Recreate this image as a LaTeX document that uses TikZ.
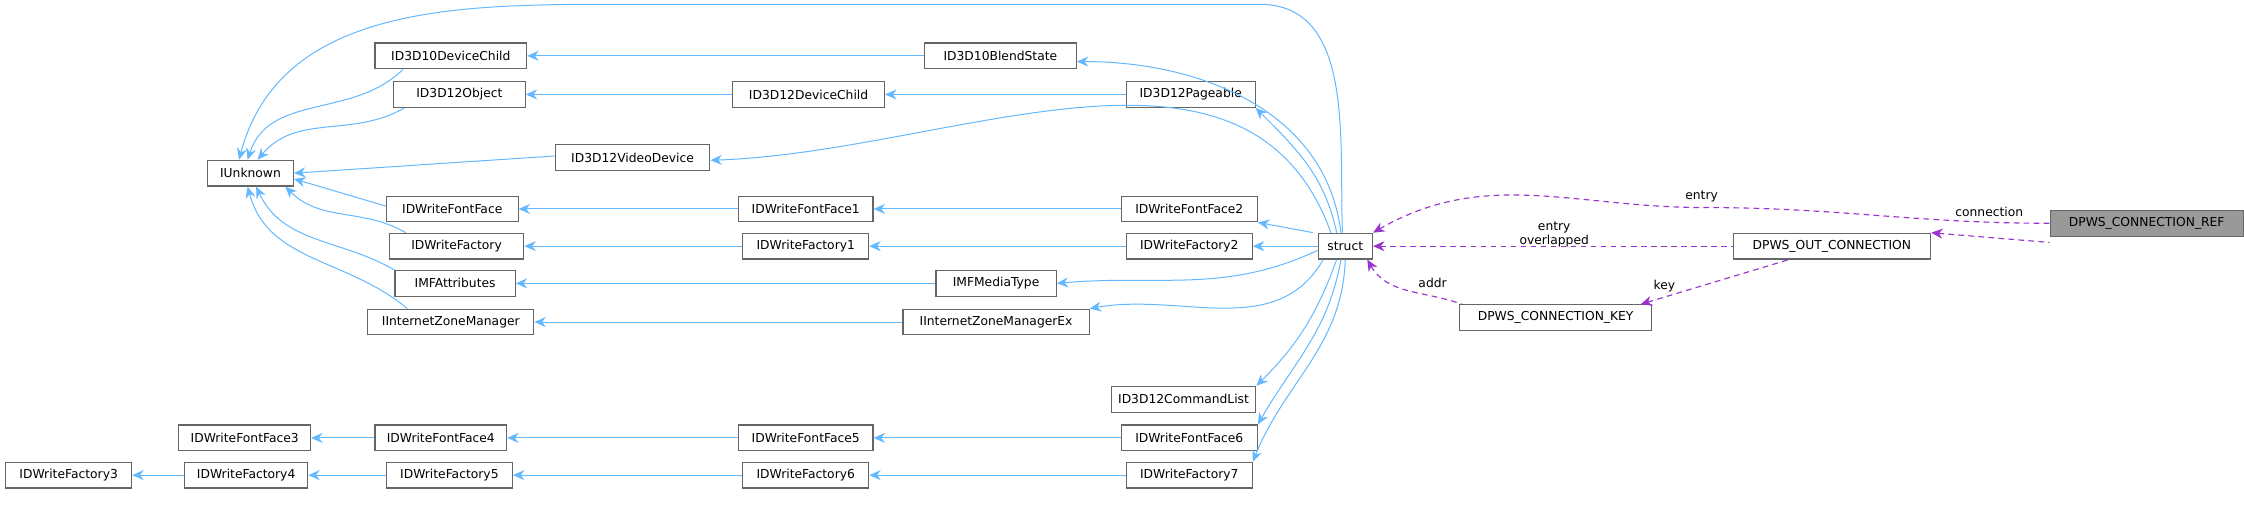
\documentclass[tikz,border=0pt]{standalone}
\usepackage{fontspec}
\setmainfont{DejaVu Sans}
\usetikzlibrary{arrows.meta}
\definecolor{eb}{HTML}{63B8FF}
\definecolor{ep}{HTML}{9A32CD}
\begin{document}
\begin{tikzpicture}[x=1pt,y=-1pt,
 n/.style={draw=black!60,line width=0.8pt,fill=white,minimum height=18pt,inner sep=0pt,font=\fontsize{8.6}{10}\selectfont},
 b/.style={draw=eb,line width=0.7pt,{Stealth[length=8pt,width=7pt]}-},
 p/.style={draw=ep,line width=0.8pt,dashed,dash pattern=on 4pt off 3pt,{Stealth[length=8pt,width=7pt]}-},
 lab/.style={font=\fontsize{8.6}{9.5}\selectfont,align=center,inner sep=1pt}]
\useasboundingbox (0,0) rectangle (1568,368);
\node[n,minimum width=60pt] (IU) at (175,121) {IUnknown};
\node[n,minimum width=106pt] (D10DC) at (315,39) {ID3D10DeviceChild};
\node[n,minimum width=92pt] (D12O) at (321,66) {ID3D12Object};
\node[n,minimum width=108pt] (D12VD) at (442,110) {ID3D12VideoDevice};
\node[n,minimum width=92pt] (FF) at (316,146) {IDWriteFontFace};
\node[n,minimum width=94pt] (FA) at (319,172) {IDWriteFactory};
\node[n,minimum width=84pt] (MFA) at (318,198) {IMFAttributes};
\node[n,minimum width=116pt] (IZM) at (315,225) {IInternetZoneManager};
\node[n,minimum width=106pt] (BS) at (699,39) {ID3D10BlendState};
\node[n,minimum width=106pt] (D12DC) at (565,66) {ID3D12DeviceChild};
\node[n,minimum width=94pt] (FF1) at (563,146) {IDWriteFontFace1};
\node[n,minimum width=88pt] (FA1) at (563,172) {IDWriteFactory1};
\node[n,minimum width=84pt] (MT) at (696,198) {IMFMediaType};
\node[n,minimum width=130pt] (IZMX) at (696,225) {IInternetZoneManagerEx};
\node[n,minimum width=90pt] (PG) at (832,66) {ID3D12Pageable};
\node[n,minimum width=95pt] (FF2) at (831,146) {IDWriteFontFace2};
\node[n,minimum width=88pt] (FA2) at (831,172) {IDWriteFactory2};
\node[n,minimum width=101pt] (CL) at (827,279) {ID3D12CommandList};
\node[n,minimum width=95pt] (FF6) at (831,306) {IDWriteFontFace6};
\node[n,minimum width=88pt] (FA7) at (831,332) {IDWriteFactory7};
\node[n,minimum width=92pt] (FF3) at (171,306) {IDWriteFontFace3};
\node[n,minimum width=92pt] (FF4) at (308,306) {IDWriteFontFace4};
\node[n,minimum width=94pt] (FF5) at (563,306) {IDWriteFontFace5};
\node[n,minimum width=88pt] (FA3) at (48,332) {IDWriteFactory3};
\node[n,minimum width=86pt] (FA4) at (172,332) {IDWriteFactory4};
\node[n,minimum width=88pt] (FA5) at (314,332) {IDWriteFactory5};
\node[n,minimum width=88pt] (FA6) at (563,332) {IDWriteFactory6};
\node[n,minimum width=38pt] (S) at (940,172) {struct};
\node[n,minimum width=138pt] (OC) at (1280,172) {DPWS\_OUT\_CONNECTION};
\node[n,minimum width=134pt] (K) at (1087,222) {DPWS\_CONNECTION\_KEY};
\node[n,minimum width=135pt,fill=black!40] (R) at (1500,156) {DPWS\_CONNECTION\_REF};
% IUnknown children
\draw[b] ([xshift=-2pt]IU.north) to[out=72,in=225] ([xshift=20pt]D10DC.south west);
\draw[b] ([xshift=5pt]IU.north) to[out=50,in=210] ([xshift=8pt]D12O.south west);
\draw[b] (IU.east) -- ([yshift=1pt]D12VD.west);
\draw[b] ([yshift=-4pt]IU.east) -- ([yshift=2pt]FF.west);
\draw[b] ([xshift=-6pt]IU.south east) to[out=-45,in=150] ([xshift=12pt]FA.north west);
\draw[b] ([xshift=4pt]IU.south) to[out=-65,in=150] (MFA.north west);
\draw[b] ([xshift=-2pt]IU.south) to[out=-75,in=140] ([xshift=28pt]IZM.north west);
% horizontal chains
\draw[b] (D10DC) -- (BS);
\draw[b] (D12O) -- (D12DC);
\draw[b] (D12DC) -- (PG);
\draw[b] (FF) -- (FF1);
\draw[b] (FF1) -- (FF2);
\draw[b] (FA) -- (FA1);
\draw[b] (FA1) -- (FA2);
\draw[b] (MFA) -- (MT);
\draw[b] (IZM) -- (IZMX);
\draw[b] (FF3) -- (FF4);
\draw[b] (FF4) -- (FF5);
\draw[b] (FF5) -- (FF6);
\draw[b] (FA3) -- (FA4);
\draw[b] (FA4) -- (FA5);
\draw[b] (FA5) -- (FA6);
\draw[b] (FA6) -- (FA7);
% struct edges
\coordinate (t1) at (430,3);
\coordinate (t2) at (880,3);
\draw[b] ([xshift=-8pt]IU.north) to[out=75,in=180] (t1) -- (t2) to[out=0,in=92] ([xshift=-2pt]S.north);
\draw[b] ([yshift=-4pt]BS.east) to[out=0,in=97] ([xshift=-3pt]S.north);
\draw[b] (PG.south east) to[out=-45,in=102] ([xshift=-6pt]S.north);
\draw[b] ([yshift=-2pt]D12VD.east) to[out=2,in=110] ([xshift=-10pt]S.north);
\draw[b] (FF2.south east) -- ([xshift=-3pt]S.north west);
\draw[b] (FA2) -- (S);
\draw[b] (MT.east) to[out=5,in=-155] ([yshift=-3pt]S.west);
\draw[b] (IZMX.north east) to[out=10,in=-120] ([xshift=4pt]S.south west);
\draw[b] (CL.north east) to[out=45,in=-110] ([xshift=-6pt]S.south);
\draw[b] (FF6.north east) to[out=60,in=-100] ([xshift=-3pt]S.south);
\draw[b] (FA7.north east) to[out=68,in=-92] (S.south);
% purple
\draw[p] (S.north east) to[out=30,in=180] (1190,145) to[out=0,in=180] (R.west);
\node[lab] at (1189,137) {entry};
\draw[p] (OC.north east) -- ([yshift=-4pt]R.south west);
\node[lab] at (1390,148) {connection};
\draw[p] (S) -- (OC);
\node[lab] at (1086,164) {entry\\overlapped};
\draw[p] ([xshift=-8pt]K.north east) -- ([xshift=-30pt]OC.south);
\node[lab] at (1163,200) {key};
\draw[p] ([xshift=-4pt]S.south east) to[out=-60,in=160] ([xshift=2pt]K.north west);
\node[lab] at (1001,198) {addr};
\end{tikzpicture}
\end{document}
